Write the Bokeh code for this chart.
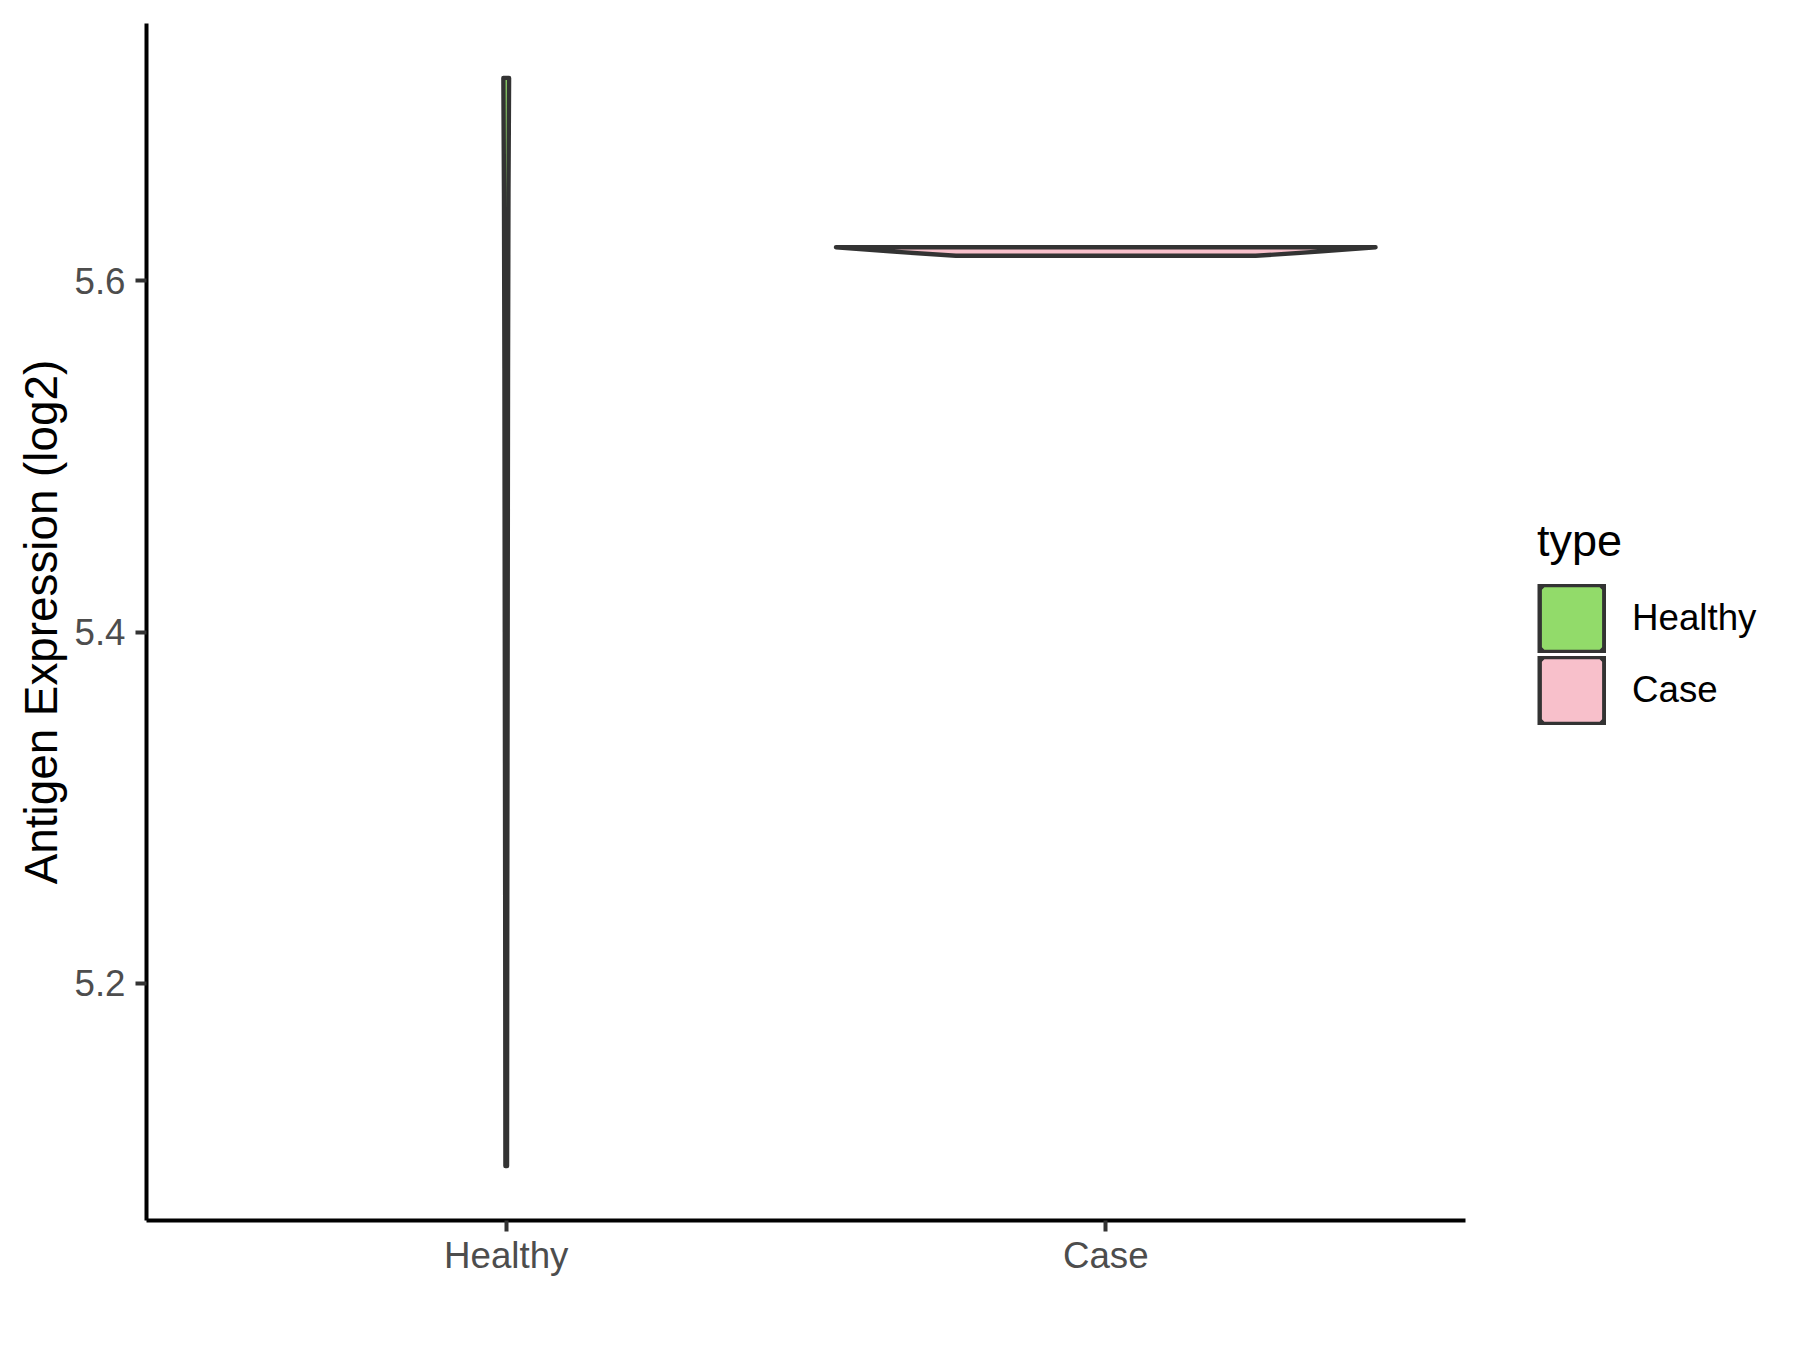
from bokeh.plotting import figure
from bokeh.models import Range1d, FixedTicker, Legend, LegendItem
from bokeh.embed import file_html
from bokeh.resources import INLINE

# ---- data ----
categories = ["Healthy", "Case"]
fill_colors = ["#92DB6A", "#F8C0CB"]

# violin outline: y levels (log2 expression) and full violin width (x units) at each level
healthy_levels = [5.0959, 5.25, 5.40, 5.55, 5.65, 5.7155]
healthy_widths = [0.0027, 0.0035, 0.0048, 0.0060, 0.0075, 0.0095]

case_levels = [5.6142, 5.6167, 5.6191]
case_widths = [0.50, 0.72, 0.90]

y_ticks = [5.2, 5.4, 5.6]

y_title = "Antigen Expression (log2)"
legend_title = "type"


def violin_outline(center, levels, widths):
    left = [center - w / 2 for w in widths]
    right = [center + w / 2 for w in widths]
    xs = left + right[::-1]
    ys = list(levels) + list(levels)[::-1]
    return xs, ys


all_vals = healthy_levels + case_levels
lo, hi = min(all_vals), max(all_vals)
pad = (hi - lo) * 0.05
positions = [i + 1 for i in range(len(categories))]

FONT = "Liberation Sans"
OUT = "#333333"

p = figure(
    frame_width=1319, frame_height=1197,
    min_border_left=146, min_border_right=334, min_border_top=23, min_border_bottom=122,
    x_range=Range1d(positions[0] - 0.6, positions[-1] + 0.6),
    y_range=Range1d(lo - pad, hi + pad),
    output_backend="svg", toolbar_location=None,
)
p.outline_line_color = None
p.xgrid.visible = False
p.ygrid.visible = False
p.background_fill_color = "white"
p.border_fill_color = "white"

for pos, levels, widths, col in zip(positions, [healthy_levels, case_levels],
                                     [healthy_widths, case_widths], fill_colors):
    xs, ys = violin_outline(pos, levels, widths)
    p.patch(xs, ys, fill_color=col, line_color=OUT, line_width=4.4, line_join="round")

# legend key renderers (kept off-screen; they only draw the legend swatches)
legend_items = []
for c, col in zip(categories, fill_colors):
    r_border = p.line(x=[-10, -9], y=[0, 0], line_color=OUT, line_width=69)
    r_fill = p.patch(x=[-10, -9, -9], y=[0, 0, 1], fill_color=col,
                     line_color=col, line_width=5)
    legend_items.append(LegendItem(label=c, renderers=[r_border, r_fill]))

# axes
for ax in (p.xaxis[0], p.yaxis[0]):
    ax.axis_line_color = "black"
    ax.axis_line_width = 4
    ax.major_tick_line_color = OUT
    ax.major_tick_line_width = 4
    ax.major_tick_out = 11
    ax.major_tick_in = 0
    ax.minor_tick_line_color = None
    ax.major_label_text_font = FONT
    ax.major_label_text_font_size = "36.7px"
    ax.major_label_text_color = "#4D4D4D"

p.xaxis[0].ticker = FixedTicker(ticks=positions)
p.xaxis[0].major_label_overrides = {pos: c for pos, c in zip(positions, categories)}
p.xaxis[0].major_label_standoff = 3

p.yaxis[0].ticker = FixedTicker(ticks=y_ticks)
p.yaxis[0].major_label_standoff = 10
p.yaxis[0].axis_label = y_title
p.yaxis[0].axis_label_text_font = FONT
p.yaxis[0].axis_label_text_font_size = "45.8px"
p.yaxis[0].axis_label_text_font_style = "normal"
p.yaxis[0].axis_label_text_color = "black"
p.yaxis[0].axis_label_standoff = 4

legend = Legend(
    items=legend_items,
    location=(72, 494),
    title=legend_title,
    title_text_font=FONT, title_text_font_size="45px", title_text_font_style="normal",
    title_text_color="black", title_standoff=15,
    label_text_font=FONT, label_text_font_size="36.7px", label_text_color="black",
    glyph_width=69, glyph_height=72, spacing=0, label_standoff=26,
    padding=0, margin=0, border_line_color=None, background_fill_alpha=0,
)
p.add_layout(legend, "right")

open("out.html", "w").write(file_html(p, INLINE))
